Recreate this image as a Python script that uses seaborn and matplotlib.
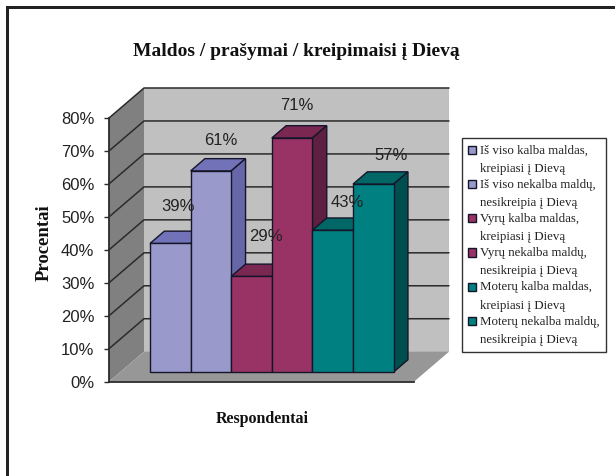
import pandas as pd
import seaborn as sns
import matplotlib.pyplot as plt
from matplotlib.patches import Polygon, Rectangle

sns.set_style('white')
plt.rcParams['font.family'] = ['Liberation Sans', 'DejaVu Sans']

W, H = 615, 476
SERIF = ['Liberation Serif', 'DejaVu Serif']

labels = ['Iš viso kalba maldas,\nkreipiasi į Dievą',
          'Iš viso nekalba maldų,\nnesikreipia į Dievą',
          'Vyrų kalba maldas,\nkreipiasi į Dievą',
          'Vyrų nekalba maldų,\nnesikreipia į Dievą',
          'Moterų kalba maldas,\nkreipiasi į Dievą',
          'Moterų nekalba maldų,\nnesikreipia į Dievą']
values = [39, 61, 29, 71, 43, 57]
front_colors = ['#9999CC', '#9999CC', '#993366', '#993366', '#008080', '#008080']
top_colors = ['#7272B8', '#7272B8', '#7A2852', '#7A2852', '#006666', '#006666']
side_colors = ['#6666A8', '#6666A8', '#5E1F40', '#5E1F40', '#004F4F', '#004F4F']
yticks = [0, 10, 20, 30, 40, 50, 60, 70, 80]
ytick_labels = ['0%', '10%', '20%', '30%', '40%', '50%', '60%', '70%', '80%']

# text offsets from the bar top centre, in pixels
label_offsets = [(8, 37), (10, 30), (14, 40), (5, 32), (15, 28), (18, 29)]

df = pd.DataFrame({'group': labels, 'value': values})

fig = plt.figure(figsize=(W / 100, H / 100), dpi=100, facecolor='white')
ax = fig.add_axes([109 / W, (H - 381.7) / H, 305 / W, 263.7 / H])
ax.patch.set_visible(False)

sns.barplot(data=df, x='group', y='value', hue='group', palette=front_colors,
            hue_order=labels, order=labels, width=1, dodge=False, legend=True,
            edgecolor='#15152a', linewidth=1, saturation=1, ax=ax)

PX_X = 40.6           # pixels per category
PX_Y = 263.7 / 80     # pixels per percent
DEPTH_X = 35 / PX_X   # full floor depth in data units
DEPTH_Y = 30 / PX_Y
BAR_D = 0.323         # depth of bar fronts
BAR_DEPTH = 0.41      # depth of the bars themselves

xleft = -0.5 - (150 - 11.3 - 109) / PX_X
xright = xleft + 305 / PX_X
ax.set_xlim(xleft, xright)
ax.set_ylim(0, 80)


def proj(x, y, d):
    return (x + d * DEPTH_X, y + d * DEPTH_Y)


# walls and floor
ax.add_patch(Polygon([proj(xleft, 0, 1), proj(xright, 0, 1), proj(xright, 80, 1), proj(xleft, 80, 1)],
                     fc='#C0C0C0', ec='none', clip_on=False, zorder=0.5))
ax.add_patch(Polygon([proj(xleft, 0, 0), proj(xleft, 0, 1), proj(xleft, 80, 1), proj(xleft, 80, 0)],
                     fc='#808080', ec='none', clip_on=False, zorder=0.6))
ax.add_patch(Polygon([proj(xleft, 0, 0), proj(xright, 0, 0), proj(xright, 0, 1), proj(xleft, 0, 1)],
                     fc='#979797', ec='none', clip_on=False, zorder=0.6))

# gridlines run along the side wall and the back wall
for t in yticks[1:]:
    pts = [proj(xleft, t, 0), proj(xleft, t, 1), proj(xright, t, 1)]
    ax.plot(*zip(*pts), color='#2b2b2b', lw=1.1, clip_on=False, zorder=0.8)

# 3d bars
for i, (bar, val) in enumerate(zip(ax.patches[:len(values)], values)):
    x0 = bar.get_x()
    w = bar.get_width()
    sx, sy = proj(x0, 0, BAR_D)
    bar.set_x(sx)
    bar.set_y(sy)
    bar.set_clip_on(False)
    bar.set_zorder(3 + i + 0.5)
    xa, xb = sx, sx + w
    y0, y1 = sy, sy + val
    dx, dy = BAR_DEPTH * DEPTH_X, BAR_DEPTH * DEPTH_Y
    ax.add_patch(Polygon([(xa, y1), (xb, y1), (xb + dx, y1 + dy), (xa + dx, y1 + dy)],
                         fc=top_colors[i], ec='#15152a', lw=1, clip_on=False, zorder=3 + i))
    ax.add_patch(Polygon([(xb, y0), (xb + dx, y0 + dy), (xb + dx, y1 + dy), (xb, y1)],
                         fc=side_colors[i], ec='#15152a', lw=1, clip_on=False, zorder=3 + i))
    off = label_offsets[i]
    ax.annotate(f'{val}%', (sx + w / 2, y1), xytext=(off[0] * 0.72, off[1] * 0.72),
                textcoords='offset points', ha='center', va='center',
                fontsize=12, color='#222222', zorder=20, annotation_clip=False)

# axes
sns.despine(ax=ax, top=True, right=True)
for s in ['left', 'bottom']:
    ax.spines[s].set_color('#2b2b2b')
    ax.spines[s].set_linewidth(1.3)
    ax.spines[s].set_zorder(2)
ax.set_xticks([])
ax.set_yticks(yticks)
ax.set_yticklabels(ytick_labels, fontsize=12, color='#222222')
ax.tick_params(axis='y', left=True, length=3.5, width=1, color='#2b2b2b', pad=7)
ax.set_xlabel('')
ax.set_ylabel('')

# legend
handles, leg_labels = ax.get_legend_handles_labels()
leg = ax.legend(handles, leg_labels, loc='upper left',
                bbox_to_anchor=(461.7 / W, 1 - 138 / H), bbox_transform=fig.transFigure,
                prop={'family': SERIF, 'size': 9.3}, frameon=True, fancybox=False,
                edgecolor='#333333', framealpha=1, borderaxespad=0, borderpad=0.5,
                labelspacing=0.32, handlelength=0.6, handleheight=0.6, handletextpad=0.3)
leg.get_frame().set_linewidth(1)
leg.set_zorder(30)
for t in leg.get_texts():
    t.set_linespacing(1.68)
    t.set_color('#222222')
for h in leg.legend_handles:
    h.set_edgecolor('#15152a')
    h.set_linewidth(1)
    h.set_y(h.get_y() + 7)

# texts
fig.text(296 / W, 1 - 51 / H, 'Maldos / prašymai / kreipimaisi į Dievą', family=SERIF,
         weight='bold', fontsize=14, ha='center', va='center', color='#111111')
fig.text(262 / W, 1 - 419 / H, 'Respondentai', family=SERIF, weight='bold', fontsize=11.5,
         ha='center', va='center', color='#111111')
fig.text(44 / W, 1 - 243 / H, 'Procentai', family=SERIF, weight='bold', fontsize=13.5,
         rotation=90, ha='center', va='center', color='#111111')

# outer frame from the page
fig.add_artist(Rectangle((6 / W, 0), 2.5 / W, 1 - 6 / H, transform=fig.transFigure, fc='#222222', ec='none'))
fig.add_artist(Rectangle((6 / W, 1 - 9 / H), 1 - 6 / W, 3 / H, transform=fig.transFigure, fc='#222222', ec='none'))

plt.savefig('out.png', dpi=100)
